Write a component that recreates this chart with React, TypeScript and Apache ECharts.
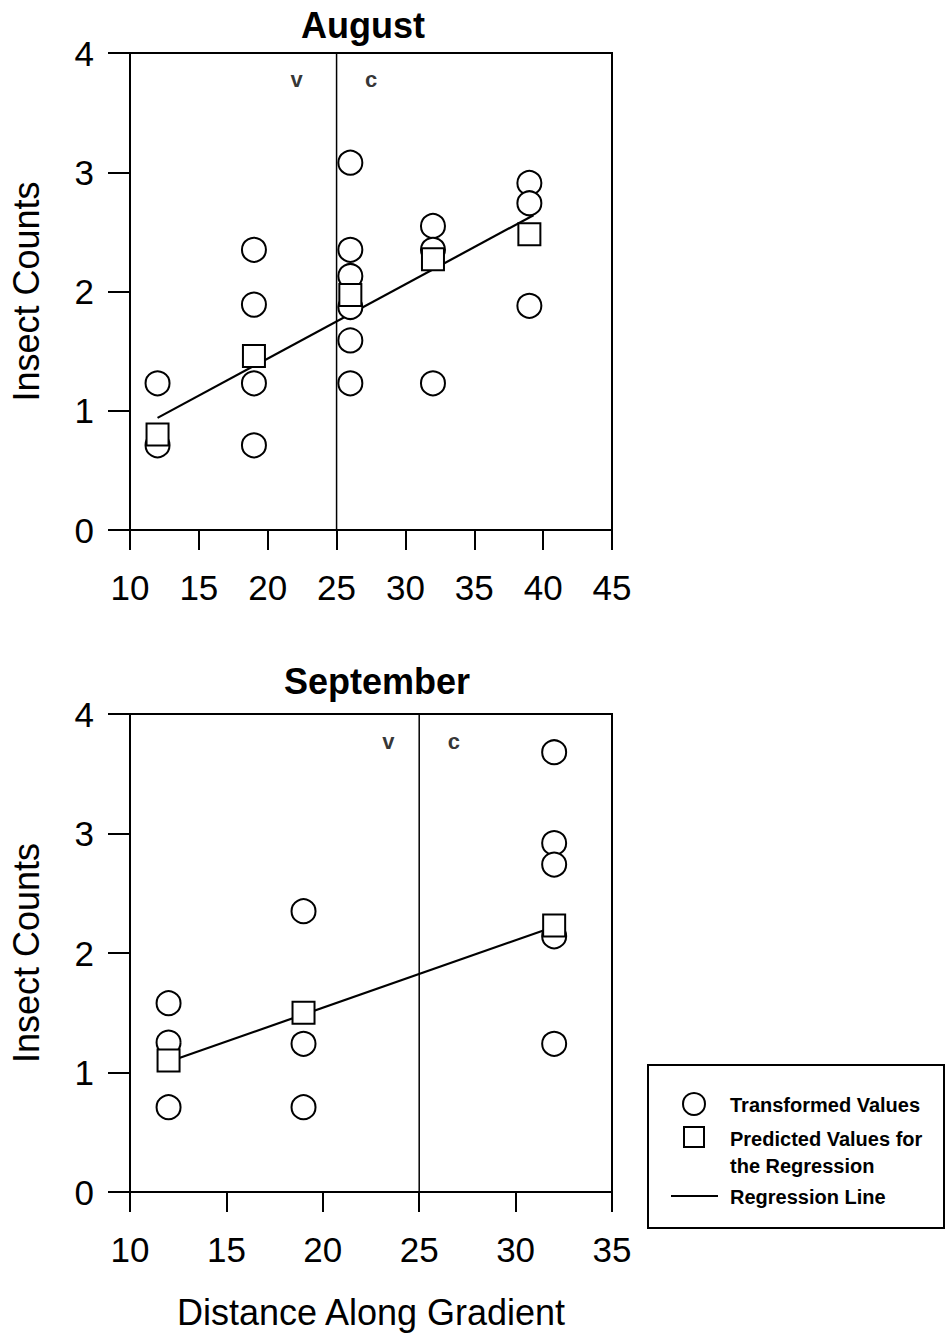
import React, { useEffect, useRef } from "react";
import * as echarts from "echarts";

// ---- Data ----
const augTransformed: number[][] = [
  [12, 1.23], [12, 0.71],
  [19, 2.35], [19, 1.89], [19, 1.23], [19, 0.71],
  [26, 3.08], [26, 2.35], [26, 2.13], [26, 1.87], [26, 1.59], [26, 1.23],
  [32, 2.55], [32, 2.35], [32, 1.23],
  [39, 2.91], [39, 2.74], [39, 1.88],
];
const augPredicted: number[][] = [
  [12, 0.8], [19, 1.46], [26, 1.97], [32, 2.27], [39, 2.48],
];
const augRegression: number[][] = [[12, 0.94], [39.3, 2.64]];
const augDivider: number[][] = [[25, 0], [25, 4]];
const augZoneLabels = [
  { name: "v", value: [22.1, 3.78] },
  { name: "c", value: [27.5, 3.78] },
];

const sepTransformed: number[][] = [
  [12, 1.58], [12, 1.25], [12, 0.71],
  [19, 2.35], [19, 1.24], [19, 0.71],
  [32, 3.68], [32, 2.92], [32, 2.74], [32, 2.14], [32, 1.24],
];
const sepPredicted: number[][] = [[12, 1.1], [19, 1.5], [32, 2.23]];
const sepRegression: number[][] = [[12, 1.09], [32, 2.22]];
const sepDivider: number[][] = [[25, 0], [25, 4]];
const sepZoneLabels = [
  { name: "v", value: [23.4, 3.77] },
  { name: "c", value: [26.8, 3.77] },
];

const titles = ["August", "September"];
const xRanges = [
  { min: 10, max: 45, interval: 5 },
  { min: 10, max: 35, interval: 5 },
];
const yRange = { min: 0, max: 4, interval: 1 };
const yName = "Insect Counts";
const xName = "Distance Along Gradient";
const legendLabels = ["Transformed Values", "Predicted Values for\nthe Regression", "Regression Line"];

const FONT = "'Liberation Sans', Arial, Helvetica, sans-serif";

export default function App() {
  const ref = useRef<HTMLDivElement>(null);

  useEffect(() => {
    if (!ref.current) return;
    const chart = echarts.init(ref.current, null, { renderer: "svg" });

    const grids = [
      { left: 130, top: 53, width: 482, height: 477 },
      { left: 130, top: 714, width: 482, height: 478 },
    ];

    const xAxes = xRanges.map((r, i) => ({
      type: "value",
      gridIndex: i,
      min: r.min,
      max: r.max,
      interval: r.interval,
      name: i === 1 ? xName : "",
      nameLocation: "middle",
      nameGap: 102,
      nameTextStyle: { fontSize: 36, color: "#000", fontFamily: FONT },
      axisLine: { show: true, onZero: false, lineStyle: { color: "#000", width: 2 } },
      axisTick: { show: true, inside: false, length: 20, lineStyle: { color: "#000", width: 2 } },
      axisLabel: {
        show: true,
        margin: 40,
        fontSize: 35,
        color: "#000",
        fontFamily: FONT,
        showMinLabel: true,
        showMaxLabel: true,
      },
      splitLine: { show: false },
    }));

    const yAxes = [0, 1].map((i) => ({
      type: "value",
      gridIndex: i,
      min: yRange.min,
      max: yRange.max,
      interval: yRange.interval,
      name: yName,
      nameLocation: "middle",
      nameRotate: 90,
      nameGap: 86,
      nameTextStyle: { fontSize: 36, color: "#000", fontFamily: FONT },
      axisLine: { show: true, onZero: false, lineStyle: { color: "#000", width: 2 } },
      axisTick: { show: true, inside: false, length: 22, lineStyle: { color: "#000", width: 2 } },
      axisLabel: {
        show: true,
        margin: 36,
        fontSize: 35,
        color: "#000",
        fontFamily: FONT,
        showMinLabel: true,
        showMaxLabel: true,
      },
      splitLine: { show: false },
    }));

    const panel = (
      i: number,
      transformed: number[][],
      predicted: number[][],
      regression: number[][],
      divider: number[][],
      zoneLabels: any[]
    ) => [
      {
        type: "line",
        xAxisIndex: i,
        yAxisIndex: i,
        data: divider,
        symbol: "none",
        silent: true,
        lineStyle: { color: "#000", width: 1.5 },
        z: 2,
      },
      {
        type: "line",
        xAxisIndex: i,
        yAxisIndex: i,
        data: regression,
        symbol: "none",
        lineStyle: { color: "#000", width: 2.2 },
        z: 3,
      },
      {
        type: "scatter",
        xAxisIndex: i,
        yAxisIndex: i,
        data: transformed,
        symbol: "circle",
        symbolSize: 24,
        itemStyle: { color: "#fff", borderColor: "#000", borderWidth: 2, opacity: 1 },
        z: 4,
      },
      {
        type: "scatter",
        xAxisIndex: i,
        yAxisIndex: i,
        data: predicted,
        symbol: "rect",
        symbolSize: 22,
        itemStyle: { color: "#fff", borderColor: "#000", borderWidth: 2, opacity: 1 },
        z: 5,
      },
      {
        type: "scatter",
        xAxisIndex: i,
        yAxisIndex: i,
        data: zoneLabels,
        symbolSize: 0,
        label: {
          show: true,
          position: "inside",
          formatter: "{b}",
          fontSize: 22,
          fontWeight: "bold",
          color: "#000",
          fontFamily: FONT,
        },
        z: 6,
      },
    ];

    const lx = 648, ly = 1065;
    const option: any = {
      animation: false,
      backgroundColor: "#fff",
      title: [
        {
          text: titles[0],
          left: 358,
          top: 2,
          textAlign: "center",
          textStyle: { fontSize: 36, fontWeight: "bold", color: "#000", fontFamily: FONT },
        },
        {
          text: titles[1],
          left: 372,
          top: 658,
          textAlign: "center",
          textStyle: { fontSize: 36, fontWeight: "bold", color: "#000", fontFamily: FONT },
        },
      ],
      grid: grids.map((g) => ({
        ...g,
        show: true,
        borderColor: "#000",
        borderWidth: 2,
        backgroundColor: "transparent",
      })),
      xAxis: xAxes,
      yAxis: yAxes,
      series: [
        ...panel(0, augTransformed, augPredicted, augRegression, augDivider, augZoneLabels),
        ...panel(1, sepTransformed, sepPredicted, sepRegression, sepDivider, sepZoneLabels),
      ],
      graphic: [
        {
          type: "rect",
          shape: { x: lx, y: ly, width: 296, height: 163 },
          style: { fill: "#fff", stroke: "#000", lineWidth: 2 },
        },
        {
          type: "circle",
          shape: { cx: 694, cy: 1104, r: 11 },
          style: { fill: "#fff", stroke: "#000", lineWidth: 2 },
        },
        {
          type: "rect",
          shape: { x: 684, y: 1127, width: 20, height: 20 },
          style: { fill: "#fff", stroke: "#000", lineWidth: 2 },
        },
        {
          type: "line",
          shape: { x1: 671, y1: 1196, x2: 718, y2: 1196 },
          style: { stroke: "#000", lineWidth: 2 },
        },
        {
          type: "text",
          x: 730,
          y: 1105,
          style: {
            text: legendLabels[0],
            fontSize: 20,
            fontWeight: "bold",
            fill: "#000",
            fontFamily: FONT,
            verticalAlign: "middle",
          },
        },
        {
          type: "text",
          x: 730,
          y: 1125,
          style: {
            text: legendLabels[1],
            fontSize: 20,
            fontWeight: "bold",
            fill: "#000",
            fontFamily: FONT,
            lineHeight: 27,
            verticalAlign: "top",
          },
        },
        {
          type: "text",
          x: 730,
          y: 1197,
          style: {
            text: legendLabels[2],
            fontSize: 20,
            fontWeight: "bold",
            fill: "#000",
            fontFamily: FONT,
            verticalAlign: "middle",
          },
        },
      ],
    };

    chart.setOption(option);
    return () => chart.dispose();
  }, []);

  return (
    <div
      ref={ref}
      style={{ position: "absolute", left: 0, top: 0, width: 947, height: 1339, background: "#fff" }}
    />
  );
}
